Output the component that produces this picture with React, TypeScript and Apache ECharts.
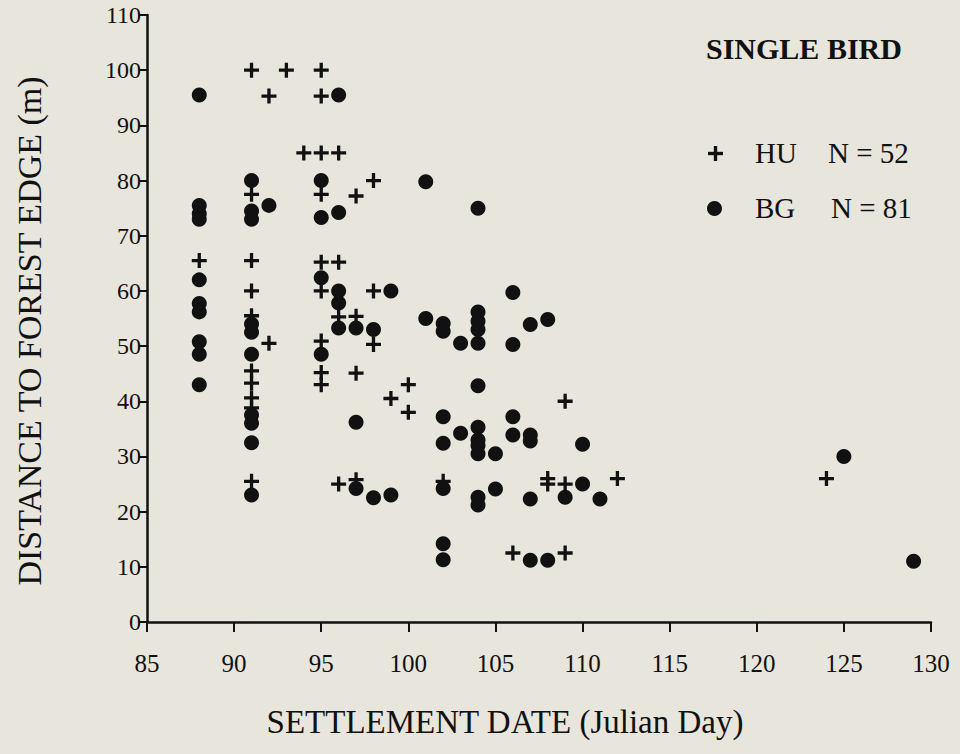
import React, { useEffect, useRef } from "react";
import * as echarts from "echarts";

// HU (cross) observations: settlement day, distance (m)
const huDay = [
  88,
  91, 91, 91, 91, 91, 91, 91, 91, 91, 91,
  92, 92,
  93,
  94,
  95, 95, 95, 95, 95, 95, 95, 95, 95,
  96, 96, 96, 96,
  97, 97, 97, 97,
  98, 98, 98,
  99,
  100, 100,
  102,
  106,
  108, 108,
  109, 109, 109,
  112,
  124,
];
const huDist = [
  65.5,
  100, 77.5, 65.5, 60, 55.5, 45.5, 43.3, 40.6, 38.8, 25.5,
  95.3, 50.5,
  100,
  85,
  100, 95.3, 85, 77.5, 65.2, 60, 50.9, 45.2, 43,
  85, 65.2, 55.3, 25,
  77.2, 55.4, 45.1, 25.8,
  80, 60, 50.3,
  40.5,
  43, 38,
  25.5,
  12.5,
  26, 25,
  40, 25, 12.5,
  26,
  26,
];

// BG (dot) observations: settlement day, distance (m)
const bgDay = [
  88, 88, 88, 88, 88, 88, 88, 88, 88, 88,
  91, 91, 91, 91, 91, 91, 91, 91, 91, 91,
  92,
  95, 95, 95, 95,
  96, 96, 96, 96, 96,
  97, 97, 97,
  98, 98,
  99, 99,
  101, 101,
  102, 102, 102, 102, 102, 102, 102,
  103, 103,
  104, 104, 104, 104, 104, 104, 104, 104, 104, 104, 104, 104,
  105, 105,
  106, 106, 106, 106,
  107, 107, 107, 107, 107,
  108, 108,
  109,
  110, 110,
  111,
  125,
  129,
];
const bgDist = [
  95.5, 75.5, 74, 73, 62, 57.7, 56.2, 50.8, 48.5, 43,
  80, 74.5, 73, 54, 52.5, 48.5, 37.5, 36, 32.5, 23,
  75.5,
  80, 73.3, 62.4, 48.5,
  95.5, 74.2, 60, 57.8, 53.3,
  53.3, 36.2, 24.2,
  53, 22.5,
  60, 23,
  79.8, 55,
  54.1, 52.7, 37.2, 32.4, 24.2, 14.2, 11.3,
  50.5, 34.2,
  75, 56.2, 54.5, 53, 50.5, 42.8, 35.3, 33, 32, 30.5, 22.6, 21.2,
  30.5, 24.1,
  59.7, 50.3, 37.2, 33.9,
  53.9, 33.9, 32.8, 22.3, 11.2,
  54.8, 11.2,
  22.6,
  32.2, 25,
  22.3,
  30,
  11,
];

const xTicks = { min: 85, max: 130, step: 5 };
const yTicks = { min: 0, max: 110, step: 10 };

const titleText = "SINGLE BIRD";
const legendHU = ["HU", "N = 52"];
const legendBG = ["BG", "N = 81"];
const xName = "SETTLEMENT DATE (Julian Day)";
const yName = "DISTANCE TO FOREST EDGE (m)";

const INK = "#111111";
const BG = "#e8e5dc";
const FONT = "'Liberation Serif', 'DejaVu Serif', serif";
const PLUS =
  "path://M0.39,0H0.61V0.39H1V0.61H0.61V1H0.39V0.61H0V0.39H0.39Z";

export default function App() {
  const ref = useRef<HTMLDivElement | null>(null);

  useEffect(() => {
    if (!ref.current) return;
    const chart = echarts.init(ref.current, undefined, { renderer: "svg" });
    const hu = huDay.map((d, i) => [d, huDist[i]]);
    const bg = bgDay.map((d, i) => [d, bgDist[i]]);

    const legendText = (t: string, x: number, y: number, size: number, bold = false) => ({
      type: "text",
      left: x,
      top: y,
      style: {
        text: t,
        fill: INK,
        font: `${bold ? "bold " : ""}${size}px ${FONT}`,
      },
    });

    chart.setOption({
      animation: false,
      backgroundColor: BG,
      grid: { left: 147, right: 29, top: 15, bottom: 132, containLabel: false },
      xAxis: {
        type: "value",
        min: xTicks.min,
        max: xTicks.max,
        interval: xTicks.step,
        axisLine: { show: true, onZero: false, lineStyle: { color: INK, width: 2.5 } },
        axisTick: { show: true, inside: false, length: 10, lineStyle: { color: INK, width: 2 } },
        axisLabel: { fontFamily: FONT, fontSize: 25, color: INK, margin: 29 },
        splitLine: { show: false },
      },
      yAxis: {
        type: "value",
        min: yTicks.min,
        max: yTicks.max,
        interval: yTicks.step,
        axisLine: { show: true, onZero: false, lineStyle: { color: INK, width: 2.5 } },
        axisTick: { show: true, inside: false, length: 8, lineStyle: { color: INK, width: 2 } },
        axisLabel: { fontFamily: FONT, fontSize: 24, color: INK, margin: 6 },
        splitLine: { show: false },
      },
      series: [
        {
          name: "HU",
          type: "scatter",
          data: hu,
          symbol: PLUS,
          symbolSize: 15,
          itemStyle: { color: INK, opacity: 1 },
          z: 3,
        },
        {
          name: "BG",
          type: "scatter",
          data: bg,
          symbol: "circle",
          symbolSize: 15,
          itemStyle: { color: INK, opacity: 1 },
          z: 2,
        },
      ],
      graphic: [
        {
          type: "text",
          x: 505,
          y: 722,
          style: {
            text: xName,
            fill: INK,
            font: `33px ${FONT}`,
            align: "center",
            verticalAlign: "middle",
          },
        },
        {
          type: "text",
          x: 29,
          y: 331,
          rotation: Math.PI / 2,
          style: {
            text: yName,
            fill: INK,
            font: `34px ${FONT}`,
            align: "center",
            verticalAlign: "middle",
          },
        },
        legendText(titleText, 706, 33, 30, true),
        {
          type: "group",
          left: 708,
          top: 146,
          children: [
            { type: "rect", shape: { x: 0, y: 6.3, width: 15, height: 3.4 }, style: { fill: INK } },
            { type: "rect", shape: { x: 5.8, y: 0.5, width: 3.4, height: 15 }, style: { fill: INK } },
          ],
        },
        legendText(legendHU[0], 755, 138, 29),
        legendText(legendHU[1], 828, 138, 29),
        {
          type: "circle",
          left: 707,
          top: 201,
          shape: { r: 7.5 },
          style: { fill: INK },
        },
        legendText(legendBG[0], 755, 193, 29),
        legendText(legendBG[1], 831, 193, 29),
      ],
    });
    return () => chart.dispose();
  }, []);

  return (
    <div
      ref={ref}
      style={{ position: "fixed", left: 0, top: 0, width: 960, height: 754, background: BG }}
    />
  );
}
